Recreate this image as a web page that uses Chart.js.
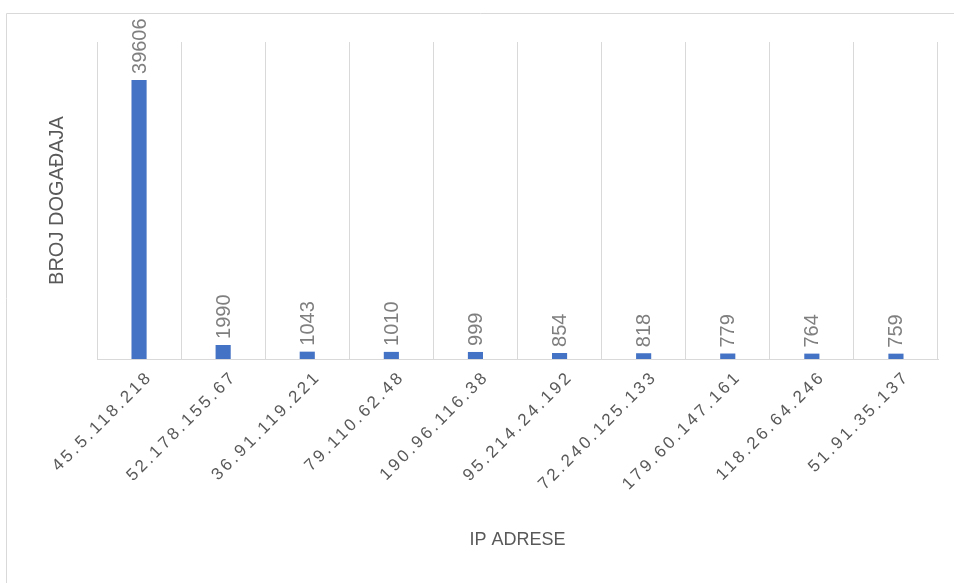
<!DOCTYPE html>
<html>
<head>
<meta charset="utf-8">
<style>
  html, body { margin: 0; padding: 0; background: #fff; }
  #wrap { position: relative; width: 954px; height: 583px; }
</style>
<script src="https://cdn.jsdelivr.net/npm/chart.js@4"></script>
</head>
<body>
<div id="wrap"><canvas id="myBarChart" width="954" height="583"></canvas></div>
<script>
var ctx = document.getElementById("myBarChart").getContext("2d");

const ipLabels = ["45.5.118.218", "52.178.155.67", "36.91.119.221", "79.110.62.48", "190.96.116.38",
  "95.214.24.192", "72.240.125.133", "179.60.147.161", "118.26.64.246", "51.91.35.137"];
const eventCounts = [39606, 1990, 1043, 1010, 999, 854, 818, 779, 764, 759];
const yAxisTitle = "BROJ DOGAĐAJA";
const xAxisTitle = "IP ADRESE";

const FONT = "'Liberation Sans', Arial, sans-serif";

// frame, rotated tick labels, axis titles and value labels
var decorations = {
  id: "decorations",
  beforeDraw(chart) {
    const c = chart.ctx;
    c.save();
    c.strokeStyle = "#D9D9D9";
    c.lineWidth = 1;
    c.beginPath();
    c.moveTo(6.5, 583);
    c.lineTo(6.5, 13.5);
    c.lineTo(954, 13.5);
    c.stroke();
    c.restore();
  },
  afterDraw(chart) {
    const c = chart.ctx;
    const x = chart.scales.x;
    const area = chart.chartArea;

    // x tick labels at 45 degrees
    c.save();
    c.fillStyle = "#595959";
    c.font = "17px " + FONT;
    c.letterSpacing = "3px";
    c.textAlign = "right";
    c.textBaseline = "top";
    ipLabels.forEach(function (lbl, i) {
      const px = x.getPixelForValue(i);
      c.save();
      c.translate(px + 5, area.bottom + 9);
      c.rotate(-Math.PI / 4);
      c.fillText(lbl, 0, 0);
      c.restore();
    });
    c.restore();

    // value labels above bars
    c.save();
    c.fillStyle = "#7F7F7F";
    c.font = "20px " + FONT;
    c.textAlign = "left";
    c.textBaseline = "middle";
    chart.getDatasetMeta(0).data.forEach(function (bar, i) {
      c.save();
      c.translate(bar.x, bar.y - 6);
      c.rotate(-Math.PI / 2);
      c.fillText(String(eventCounts[i]), 0, 1);
      c.restore();
    });
    c.restore();

    // axis titles
    c.save();
    c.fillStyle = "#595959";
    c.textAlign = "center";
    c.textBaseline = "middle";
    c.font = "18px " + FONT;
    c.fillText(xAxisTitle, (area.left + area.right) / 2, 540);
    c.font = "20px " + FONT;
    c.translate(57, (area.top + area.bottom) / 2);
    c.rotate(-Math.PI / 2);
    c.fillText(yAxisTitle, 0, 0);
    c.restore();
  }
};

var config = {
  type: "bar",
  data: {
    labels: ipLabels,
    datasets: [{
      label: yAxisTitle,
      data: eventCounts,
      backgroundColor: "#4472C4",
      borderWidth: 0,
      categoryPercentage: 1,
      barPercentage: 0.18
    }]
  },
  options: {
    responsive: false,
    animation: false,
    layout: {
      padding: { left: 97, top: 42, right: 16, bottom: 224 }
    },
    plugins: {
      legend: { display: false },
      tooltip: { enabled: false }
    },
    scales: {
      x: {
        offset: true,
        grid: { display: true, offset: true, color: "#D9D9D9", lineWidth: 1, drawTicks: false },
        border: { display: true, color: "#D9D9D9", width: 1 },
        ticks: { display: false }
      },
      y: {
        min: 0,
        max: 45000,
        grid: { display: false, drawTicks: false },
        border: { display: false },
        ticks: { display: false }
      }
    }
  },
  plugins: [decorations]
};

var barChart = new Chart(ctx, config);
</script>
</body>
</html>
